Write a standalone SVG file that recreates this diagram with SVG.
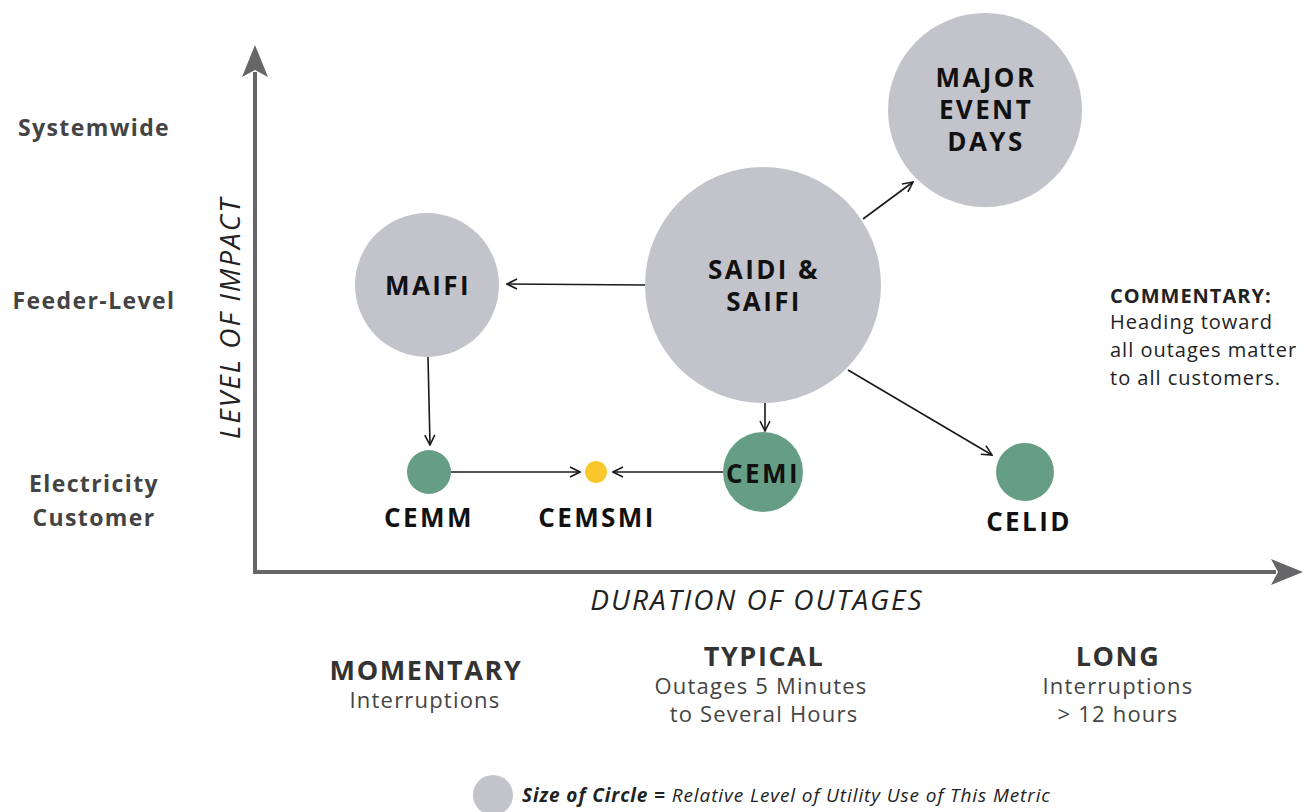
<svg xmlns="http://www.w3.org/2000/svg" width="1308" height="812" viewBox="0 0 1308 812">
<style>
.gray{fill:#c3c3cb}
.green{fill:#659e85}
.yel{fill:#fcc72c}
.axis{stroke:#666669;stroke-width:4;fill:none}
.conn{stroke:#1a1a1a;stroke-width:1.6;fill:none;marker-end:url(#open)}
text{font-family:"Open Sans","Liberation Sans",sans-serif}
.lab{font-weight:700;fill:#111;text-anchor:middle;font-size:26px;letter-spacing:2.4px}
.side{font-weight:700;fill:#444;text-anchor:middle;font-size:23px;letter-spacing:1.4px}
.ital{font-style:italic;fill:#222;text-anchor:middle;font-size:28px;letter-spacing:2px}
.cat{font-weight:700;fill:#333;text-anchor:middle;font-size:27px;letter-spacing:1.6px}
.sub{fill:#444;text-anchor:middle;font-size:22px;letter-spacing:1.2px}
.com{fill:#222;font-size:20px;letter-spacing:1px}
</style>
<defs>
<marker id="open" viewBox="0 0 12 12" refX="11" refY="6" markerWidth="12" markerHeight="12" markerUnits="userSpaceOnUse" orient="auto">
<path d="M1,1 L11,6 L1,11" fill="none" stroke="#1a1a1a" stroke-width="1.6"/>
</marker>
<marker id="big" viewBox="0 0 32 30" refX="5" refY="15" markerWidth="32" markerHeight="30" markerUnits="userSpaceOnUse" orient="auto">
<path d="M0,2 L32,15 L0,28 L7,15 Z" fill="#666669"/>
</marker>
</defs>
<g id="axes">
<line class="axis" x1="255" y1="574" x2="255" y2="72" marker-end="url(#big)"/>
<line class="axis" x1="253" y1="572" x2="1276" y2="572" marker-end="url(#big)"/>
<text class="ital" transform="translate(240,318) rotate(-90)">LEVEL OF IMPACT</text>
<text class="ital" x="757" y="610">DURATION OF OUTAGES</text>
</g>
<g id="ylabels">
<text class="side" x="94" y="136">Systemwide</text>
<text class="side" x="94" y="309">Feeder-Level</text>
<text class="side" x="94" y="492">Electricity</text>
<text class="side" x="94" y="526">Customer</text>
</g>
<g id="connectors">
<line class="conn" x1="645" y1="285" x2="507" y2="284"/>
<line class="conn" x1="428" y1="357" x2="430" y2="445"/>
<line class="conn" x1="765" y1="403" x2="765" y2="431"/>
<line class="conn" x1="848" y1="370" x2="992" y2="455"/>
<line class="conn" x1="863" y1="219" x2="913" y2="182"/>
<line class="conn" x1="451" y1="472" x2="580" y2="472"/>
<line class="conn" x1="723" y1="472" x2="613" y2="472"/>
</g>
<g id="major">
<circle class="gray" cx="985" cy="110" r="97"/>
<text class="lab" x="986" y="87">MAJOR</text>
<text class="lab" x="986" y="119">EVENT</text>
<text class="lab" x="986" y="151">DAYS</text>
</g>
<g id="saidi">
<circle class="gray" cx="763" cy="285" r="118"/>
<text class="lab" x="764" y="279">SAIDI &amp;</text>
<text class="lab" x="764" y="311">SAIFI</text>
</g>
<g id="maifi">
<circle class="gray" cx="427" cy="285" r="72"/>
<text class="lab" x="428" y="295">MAIFI</text>
</g>
<g id="cemm">
<circle class="green" cx="429" cy="472" r="22"/>
<text class="lab" x="429" y="527">CEMM</text>
</g>
<g id="cemsmi">
<circle class="yel" cx="596" cy="472" r="11"/>
<text class="lab" x="597" y="527">CEMSMI</text>
</g>
<g id="cemi">
<circle class="green" cx="763" cy="472" r="40"/>
<text class="lab" x="763" y="483">CEMI</text>
</g>
<g id="celid">
<circle class="green" cx="1025" cy="472" r="29"/>
<text class="lab" x="1029" y="531">CELID</text>
</g>
<g id="commentary">
<text class="com" x="1110" y="303" font-weight="700">COMMENTARY:</text>
<text class="com" x="1110" y="329">Heading toward</text>
<text class="com" x="1110" y="357">all outages matter</text>
<text class="com" x="1110" y="385">to all customers.</text>
</g>
<g id="categories">
<text class="cat" x="426" y="680">MOMENTARY</text>
<text class="sub" x="425" y="708">Interruptions</text>
<text class="cat" x="764" y="666">TYPICAL</text>
<text class="sub" x="761" y="694">Outages 5 Minutes</text>
<text class="sub" x="764" y="722">to Several Hours</text>
<text class="cat" x="1118" y="666">LONG</text>
<text class="sub" x="1118" y="694">Interruptions</text>
<text class="sub" x="1118" y="722">&gt; 12 hours</text>
</g>
<g id="legend">
<circle class="gray" cx="493" cy="795" r="20"/>
<text x="522" y="802" font-size="19" font-style="italic" fill="#222" letter-spacing="0.9"><tspan font-weight="700">Size of Circle =</tspan> Relative Level of Utility Use of This Metric</text>
</g>
</svg>
